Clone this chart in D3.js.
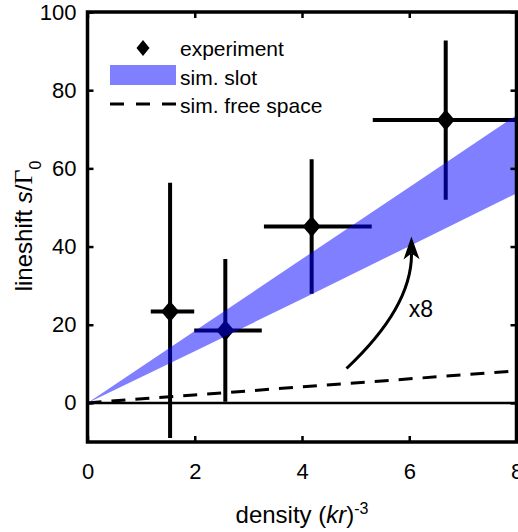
<!DOCTYPE html>
<html>
<head>
<meta charset="utf-8">
<script src="https://cdn.jsdelivr.net/npm/d3@7"></script>
<style>
  body { margin: 0; background: #fff; }
  svg text { font-family: "Liberation Sans", Arial, Helvetica, sans-serif; fill: #000; }
</style>
</head>
<body>
<div id="chart"></div>
<script>
// experiment: measured lineshift with x and y error ranges
var density   = [1.54, 2.57, 4.18, 6.68];
var lineshift = [23.4, 18.5, 45.1, 72.4];
var xLow      = [1.18, 1.99, 3.29, 5.32];
var xHigh     = [1.99, 3.25, 5.30, 8.60];
var yLow      = [-9.0, 0.3, 27.9, 52.0];
var yHigh     = [56.3, 36.8, 62.3, 92.7];

// simulation: slot band and free space line
var simDensity = [0, 2, 4, 6, 8];
var slotUpper  = [0, 18.4, 36.8, 55.2, 73.6];
var slotLower  = [0, 13.2, 26.6, 40.1, 53.6];
var freeDensity = [0, 8];
var freeShift   = [0, 8.2];

var xTicks = [0, 2, 4, 6, 8];
var yTicks = [0, 20, 40, 60, 80, 100];

// set the dimensions and margins of the graph
var W = 518, H = 532;
var margin = {top: 12, right: 1.5, bottom: 90, left: 87.5},
width = W - margin.left - margin.right,
height = H - margin.top - margin.bottom;

var svg = d3.select("#chart")
.append("svg")
.attr("width", W)
.attr("height", H)
.append("g")
.attr("transform", "translate(" + margin.left + "," + margin.top + ")");

var x = d3.scaleLinear().domain([0, 8]).range([0, width]);
var y = d3.scaleLinear().domain([-10, 100]).range([height, 0]);

svg.append("clipPath").attr("id", "clip")
.append("rect").attr("width", width).attr("height", height);

var plot = svg.append("g").attr("clip-path", "url(#clip)");

// zero line
plot.append("line")
.attr("x1", 0).attr("x2", width)
.attr("y1", y(0)).attr("y2", y(0))
.attr("stroke", "#000").attr("stroke-width", 2.5);

// free space dashed line
var freeData = freeDensity.map(function(d, i) { return [d, freeShift[i]]; });
plot.append("path")
.datum(freeData)
.attr("d", d3.line().x(function(d) { return x(d[0]); }).y(function(d) { return y(d[1]); }))
.attr("fill", "none")
.attr("stroke", "#000")
.attr("stroke-width", 3)
.attr("stroke-dasharray", "14,10");

// error bars
var pts = density.map(function(d, i) {
    return {x: d, y: lineshift[i], x0: xLow[i], x1: xHigh[i], y0: yLow[i], y1: yHigh[i]};
});

var bars = plot.append("g").selectAll("g").data(pts).enter().append("g");
bars.append("line")
.attr("x1", function(d) { return x(d.x0); })
.attr("x2", function(d) { return x(d.x1); })
.attr("y1", function(d) { return y(d.y); })
.attr("y2", function(d) { return y(d.y); })
.attr("stroke", "#000").attr("stroke-width", 4);
bars.append("line")
.attr("x1", function(d) { return x(d.x); })
.attr("x2", function(d) { return x(d.x); })
.attr("y1", function(d) { return y(d.y0); })
.attr("y2", function(d) { return y(d.y1); })
.attr("stroke", "#000").attr("stroke-width", 4);

function diamond(hw, hh) {
    return "M0," + (-hh) + "L" + hw + ",0L0," + hh + "L" + (-hw) + ",0Z";
}
bars.append("path")
.attr("transform", function(d) { return "translate(" + x(d.x) + "," + y(d.y) + ")"; })
.attr("d", diamond(9, 10.5))
.attr("fill", "#000");

// slot band, semi transparent on top
var bandData = simDensity.map(function(d, i) { return {x: d, lo: slotLower[i], hi: slotUpper[i]}; });
plot.append("path")
.datum(bandData)
.attr("d", d3.area()
    .x(function(d) { return x(d.x); })
    .y0(function(d) { return y(d.lo); })
    .y1(function(d) { return y(d.hi); }))
.attr("fill", "#0000ff")
.attr("fill-opacity", 0.5);

// axes with inward ticks
function styleAxis(g) {
    g.select(".domain").remove();
    g.selectAll(".tick line").attr("stroke", "#000").attr("stroke-width", 2.5);
    g.selectAll(".tick text").style("font-size", "22px");
}
svg.append("g")
.attr("transform", "translate(0," + height + ")")
.call(d3.axisBottom(x).tickValues(xTicks).tickSize(-6).tickPadding(21))
.call(styleAxis);
svg.append("g")
.call(d3.axisLeft(y).tickValues(yTicks).tickSize(-6).tickPadding(11))
.call(styleAxis);
svg.append("g")
.call(d3.axisTop(x).tickValues(xTicks).tickSize(-6).tickFormat(""))
.call(styleAxis);
svg.append("g")
.attr("transform", "translate(" + width + ",0)")
.call(d3.axisRight(y).tickValues(yTicks).tickSize(-6).tickFormat(""))
.call(styleAxis);

// frame
svg.append("rect")
.attr("width", width).attr("height", height)
.attr("fill", "none").attr("stroke", "#000").attr("stroke-width", 3.5);

// x8 annotation arrow
var arrowFrom = [4.83, 8.8], arrowCtrl = [6.05, 24.5], arrowTo = [6.04, 42.6];
var p0 = [x(arrowFrom[0]), y(arrowFrom[1])],
    pc = [x(arrowCtrl[0]), y(arrowCtrl[1])],
    p2 = [x(arrowTo[0]), y(arrowTo[1])];
var ang = Math.atan2(p2[1] - pc[1], p2[0] - pc[0]);
var headLen = 23, headW = 8, notch = 6;
var back = [p2[0] - headLen * Math.cos(ang), p2[1] - headLen * Math.sin(ang)];
var shaftEnd = [p2[0] - (headLen - notch) * Math.cos(ang), p2[1] - (headLen - notch) * Math.sin(ang)];
svg.append("path")
.attr("d", "M" + p0 + "Q" + pc + " " + shaftEnd)
.attr("fill", "none").attr("stroke", "#000").attr("stroke-width", 3);
svg.append("path")
.attr("d", "M" + p2 +
    "L" + [back[0] + headW * Math.sin(ang), back[1] - headW * Math.cos(ang)] +
    "L" + shaftEnd +
    "L" + [back[0] - headW * Math.sin(ang), back[1] + headW * Math.cos(ang)] + "Z")
.attr("fill", "#000");
svg.append("text")
.attr("x", x(5.99)).attr("y", y(22))
.style("font-size", "23px")
.text("x8");

// legend
var leg = svg.append("g").attr("transform", "translate(" + (-margin.left) + "," + (-margin.top) + ")");
leg.append("path").attr("transform", "translate(143,48)").attr("d", diamond(6.5, 8)).attr("fill", "#000");
leg.append("rect").attr("x", 110).attr("y", 65).attr("width", 66).attr("height", 20)
.attr("fill", "#0000ff").attr("fill-opacity", 0.5);
leg.append("line").attr("x1", 110).attr("x2", 176).attr("y1", 104).attr("y2", 104)
.attr("stroke", "#000").attr("stroke-width", 3).attr("stroke-dasharray", "14,12");
var legText = ["experiment", "sim. slot", "sim. free space"];
leg.selectAll("text.leg").data(legText).enter().append("text")
.attr("class", "leg")
.attr("x", 180)
.attr("y", function(d, i) { return 56 + i * 28.5; })
.style("font-size", "21px")
.text(function(d) { return d; });

// x label
var xl = svg.append("text")
.attr("x", width / 2).attr("y", 523 - margin.top)
.attr("text-anchor", "middle")
.style("font-size", "24px");
xl.append("tspan").text("density (");
xl.append("tspan").style("font-style", "italic").text("kr");
xl.append("tspan").text(")");
xl.append("tspan").attr("dy", -9).style("font-size", "16px").text("-3");

// y label
var yl = svg.append("text")
.attr("transform", "translate(" + (32 - margin.left) + "," + (226 - margin.top) + ") rotate(-90)")
.attr("text-anchor", "middle")
.style("font-size", "24px");
yl.append("tspan").text("lineshift ");
yl.append("tspan").style("font-style", "italic").text("s");
yl.append("tspan").text("/");
yl.append("tspan").style("font-family", "'Liberation Serif', 'DejaVu Serif', serif").style("font-size", "26px").text("Γ");
yl.append("tspan").attr("dy", 9).style("font-size", "16px").text("0");
</script>
</body>
</html>
